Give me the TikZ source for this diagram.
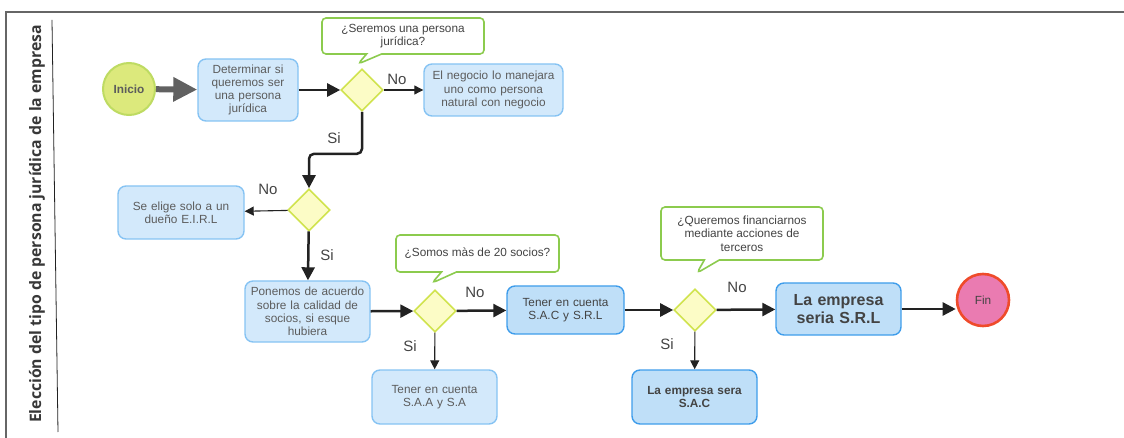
\documentclass[tikz,border=0pt]{standalone}
\usepackage{fontspec}
\setmainfont{Liberation Sans}
\newfontfamily\titlefont{Open Sans}
\usetikzlibrary{shapes.geometric,shapes.callouts,arrows.meta}
\definecolor{taskfill}{HTML}{D3E9FB}
\definecolor{taskline}{HTML}{86C3F3}
\definecolor{strongfill}{HTML}{BFDFF8}
\definecolor{strongline}{HTML}{3F9DEB}
\definecolor{gatefill}{HTML}{FCFCC6}
\definecolor{gateline}{HTML}{D0E34E}
\definecolor{commentline}{HTML}{8CCB4E}
\definecolor{startfill}{HTML}{DCE97C}
\definecolor{startline}{HTML}{BEDB62}
\definecolor{endfill}{HTML}{EA7BB1}
\definecolor{endline}{HTML}{EF4B2B}
\definecolor{taskgray}{HTML}{5C5C5C}
\definecolor{labelgray}{HTML}{444444}
\definecolor{flowblack}{HTML}{222222}
\definecolor{framegray}{HTML}{666666}
\tikzset{
    % --- textos ---
    small_text/.style={font=\fontsize{11.8}{13.3}\selectfont},
    branch/.style={font=\fontsize{15}{15}\selectfont, text=labelgray, inner sep=0pt},
    % --- nodos ---
    task/.style={rectangle, rounded corners=8pt, draw=taskline, fill=taskfill, line width=1.4pt,
                 text=taskgray, align=center, inner sep=0pt, small_text},
    task_strong/.style={task, draw=strongline, fill=strongfill, text=flowblack!85},
    gateway/.style={diamond, draw=gateline, fill=gatefill, line width=1.6pt,
                    minimum width=42pt, minimum height=42pt, inner sep=0pt},
    comment/.style={rectangle callout, rounded corners=4pt, draw=commentline, fill=white,
                    line width=1.6pt, align=center, inner sep=0pt, small_text, text=flowblack!85,
                    callout pointer width=15pt},
    event/.style={circle, minimum size=52pt, inner sep=0pt, line width=2pt},
    % --- conectores ---
    flow/.style={draw=flowblack, line width=2.5pt, -{Triangle[length=13pt,width=13pt]}},
    thin_flow/.style={draw=flowblack, line width=1.1pt, -{Triangle[length=9pt,width=9pt]}}
}

\begin{document}
\begin{tikzpicture}[x=1pt,y=-1pt]
    \useasboundingbox (0,0) rectangle (1124,438);

    % marco del carril
    \draw[framegray, line width=2pt] (1124,12) -- (6,12) -- (6,438);
    \draw[flowblack, line width=0.8pt] (52,20) -- (58,432);
    \node (lane) [rotate=90, text=flowblack!90, font=\titlefont\bfseries\fontsize{15.8}{16}\selectfont]
        at (37,224) {Elección del tipo de persona jurídica de la empresa};

    \node (inicio) [event, draw=startline, fill=startfill, text=taskgray,
        font=\fontsize{11.8}{13}\selectfont\bfseries] at (129,89) {Inicio};
    \node (determinar) [task, minimum width=100pt, minimum height=62pt, text width=92pt]
        at (248,90) {Determinar si\\queremos ser\\una persona\\jurídica};
    \node (gw1) [gateway] at (362,90) {};
    \node (q1) [comment, minimum width=162pt, minimum height=36pt,
        callout absolute pointer={(358,64)}] at (403,36) {¿Seremos una persona\\jurídica?};
    \node (natural) [task, minimum width=139pt, minimum height=52pt, text width=132pt]
        at (493.5,90) {El negocio lo manejara\\uno como persona\\natural con negocio};

    \node (gw2) [gateway] at (309,210) {};
    \node (eirl) [task, minimum width=126pt, minimum height=53pt, text width=116pt]
        at (181,212.5) {Se elige solo a un\\dueño E.I.R.L};
    \node (acuerdo) [task, minimum width=125pt, minimum height=61pt, text width=120pt]
        at (307.5,311.5) {Ponemos de acuerdo\\sobre la calidad de\\socios, si esque\\hubiera};

    \node (gw3) [gateway] at (435,311) {};
    \node (q2) [comment, minimum width=163pt, minimum height=37pt,
        callout absolute pointer={(432,283)}] at (477.5,253.5) {¿Somos màs de 20 socios?};
    \node (sacsrl) [task_strong, minimum width=117pt, minimum height=48pt, text width=108pt]
        at (565.5,310) {Tener en cuenta\\S.A.C y S.R.L};
    \node (saasa) [task, minimum width=125pt, minimum height=54pt, text width=116pt]
        at (434.5,397) {Tener en cuenta\\S.A.A y S.A};

    \node (gw4) [gateway] at (695,310) {};
    \node (q3) [comment, minimum width=162pt, minimum height=53pt,
        callout absolute pointer={(697,273)}] at (742,233.5)
        {¿Queremos financiarnos\\mediante acciones de\\terceros};
    \node (srl) [task_strong, minimum width=125pt, minimum height=52pt, text width=116pt,
        font=\fontsize{16}{18}\selectfont\bfseries] at (838.5,309) {La empresa\\seria S.R.L};
    \node (sac) [task_strong, minimum width=125pt, minimum height=54pt, text width=116pt,
        font=\fontsize{11.8}{13.3}\selectfont\bfseries] at (694.5,397) {La empresa sera\\S.A.C};
    \node (fin) [event, draw=endline, fill=endfill, line width=2.6pt, text=flowblack!85,
        small_text] at (983,300) {Fin};

    % flujos
    \draw[framegray!95!black, line width=6pt, -{Triangle[length=24pt,width=23pt]}]
        (inicio) -- (determinar);
    \draw[flow] (determinar) -- (gw1);
    \draw[thin_flow] (gw1) -- (natural);
    \draw[flow, rounded corners=5pt] (gw1.south) -- ++(0,42) -| (gw2.north);
    \draw[thin_flow] (gw2) -- (eirl);
    \draw[flow] (gw2) -- (acuerdo);
    \draw[flow] (acuerdo) -- (gw3);
    \draw[flow] (gw3) -- (sacsrl);
    \draw[thin_flow] (gw3) -- (saasa);
    \draw[flow] (sacsrl) -- (gw4);
    \draw[flow] (gw4) -- (srl);
    \draw[thin_flow] (gw4) -- (sac);
    \draw[flow] (srl.east) -- (srl.east -| fin.west);

    % etiquetas
    \node (no1) [branch] at (397,79) {No};
    \node (si1) [branch] at (334,138) {Si};
    \node (no2) [branch] at (268,189) {No};
    \node (si2) [branch] at (327,255) {Si};
    \node (no3) [branch] at (475,292) {No};
    \node (si3) [branch] at (410,346) {Si};
    \node (no4) [branch] at (737,287) {No};
    \node (si4) [branch] at (667,344) {Si};
\end{tikzpicture}
\end{document}
